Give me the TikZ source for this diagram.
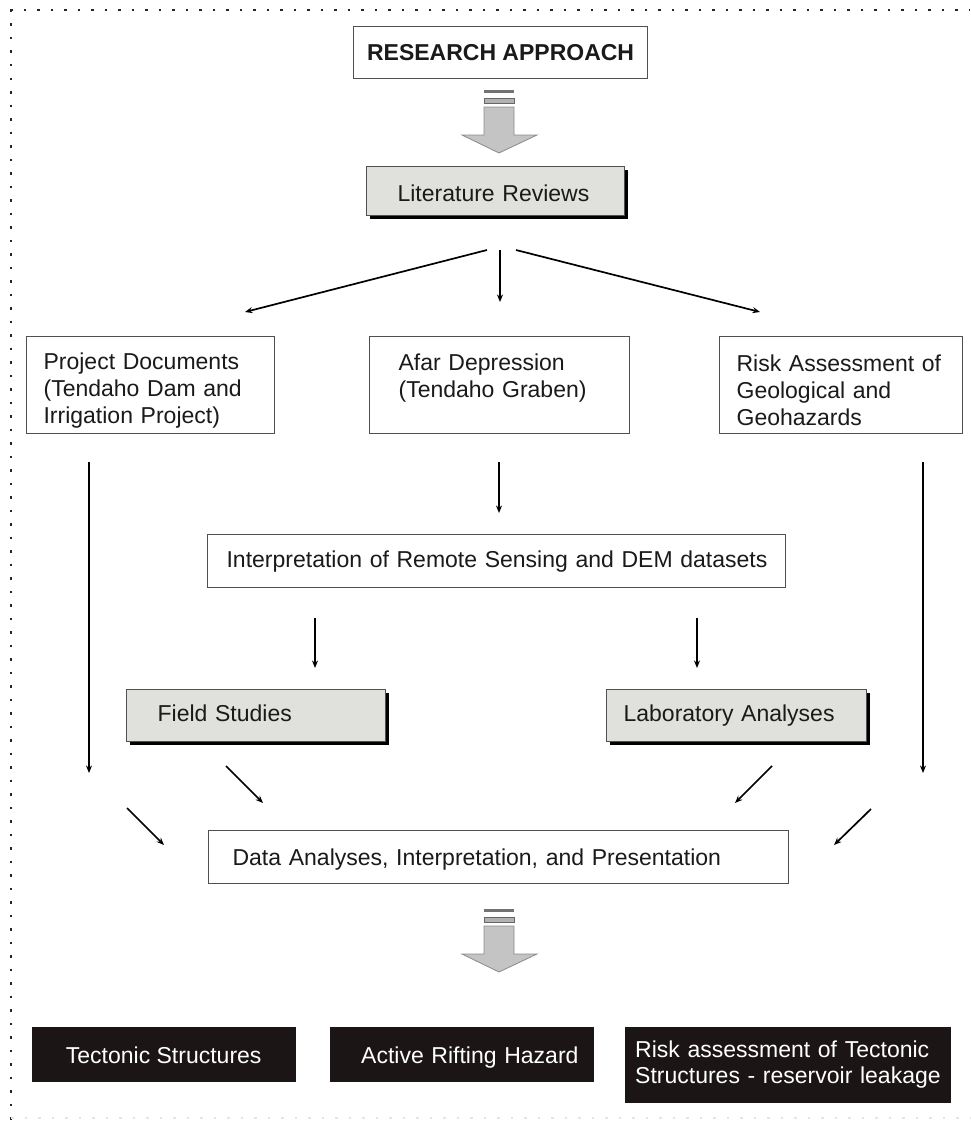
\documentclass[tikz,border=0pt]{standalone}
\usepackage{fontspec}
\setmainfont{Liberation Sans}
\usetikzlibrary{arrows.meta,shadows}
\definecolor{boxgray}{HTML}{E0E0DC}
\definecolor{darkbox}{HTML}{1C1515}
\definecolor{arrowfill}{HTML}{C4C4C4}
\definecolor{arrowline}{HTML}{8A8A8A}
\definecolor{edgegray}{HTML}{505050}
\definecolor{txt}{HTML}{1A1A1A}
\newcommand\toppad[1]{\rule{0pt}{#1}}
\newcommand\botpad[1]{\rule[-#1]{0pt}{#1}}
\tikzset{
  basebox/.style={rectangle, anchor=north west, inner ysep=0pt, text=txt,
    font=\fontsize{23}{27}\selectfont, align=left},
  oneline/.style={text height=16.6pt, text depth=4.8pt},
  plainbox/.style={basebox, draw=edgegray, line width=1.2pt, fill=white},
  shadebox/.style={basebox, oneline, draw=edgegray, line width=1.2pt, fill=boxgray,
    drop shadow={opacity=1, fill=black, shadow xshift=3pt, shadow yshift=-3pt}},
  blackbox/.style={basebox, fill=darkbox, draw=darkbox, text=white,
    font=\fontsize{23}{26}\selectfont},
  conn/.style={-{Stealth[length=7.5pt,width=6pt]}, line width=1.7pt, draw=black},
  dotline/.style={line width=2.2pt, dash pattern=on 2.5pt off 11pt, draw=black!85},
  blockarrow/.pic={
    \fill[black!55] (-15,0) rectangle (15,3);
    \draw[fill=black!30, draw=black!60, line width=0.8pt] (-15,8) rectangle (15,13);
    \draw[fill=arrowfill, draw=arrowline, line width=0.8pt]
      (-15,17) -- (15,17) -- (15,45) -- (38,45) -- (0,63) -- (-37,45) -- (-15,45) -- cycle;
  }
}
\begin{document}
\begin{tikzpicture}[x=1pt,y=-1pt]
\useasboundingbox (0,0) rectangle (970,1124);
% dotted frame
\draw[dotline] (10,10) -- (970,10);
\draw[dotline] (11,10) -- (11,1124);
\draw[dotline, draw=black!10] (11,1118) -- (970,1118);

% title
\node[plainbox, align=center, font=\fontsize{23}{27}\selectfont\bfseries,
  text height=18.6pt, text depth=2.6pt,
  minimum width=294pt, minimum height=52pt, inner xsep=0pt] (ra) at (353,26) {RESEARCH APPROACH};
\pic at (499,90) {blockarrow};

\node[shadebox, minimum width=258pt, minimum height=49pt, text width=196pt, inner xsep=31pt,
  text height=21pt, text depth=0pt] (lit) at (366,166) {Literature Reviews};

% second row
\node[plainbox, minimum width=248pt, minimum height=97pt, text width=214pt, inner xsep=17pt]
  (proj) at (26,336) {\toppad{28pt}Project Documents\\(Tendaho Dam and\\Irrigation Project)};
\node[plainbox, minimum width=260pt, minimum height=97pt, text width=202pt, inner xsep=29pt]
  (afar) at (369,336) {Afar Depression\\(Tendaho Graben)\botpad{18.6pt}};
\node[plainbox, minimum width=243pt, minimum height=97pt, text width=209pt, inner xsep=17pt]
  (risk) at (719,336) {\toppad{28pt}Risk Assessment of\\Geological and\\Geohazards};

\node[plainbox, oneline, minimum width=578pt, minimum height=53pt, text width=540pt, inner xsep=19pt]
  (interp) at (207,534) {\mbox{Interpretation of Remote Sensing and DEM datasets}};

\node[shadebox, minimum width=259pt, minimum height=52pt, text width=197pt, inner xsep=31pt]
  (field) at (126,689) {Field Studies};
\node[shadebox, minimum width=260pt, minimum height=52pt, text width=226pt, inner xsep=17pt]
  (lab) at (606,689) {\mbox{Laboratory Analyses}};

\node[plainbox, minimum width=580pt, minimum height=53pt, text width=532pt, inner xsep=24pt,
  text height=19pt, text depth=2pt] (data) at (208,830) {\mbox{Data Analyses, Interpretation, and Presentation}};

\pic at (499,909) {blockarrow};

% outcome boxes
\node[blackbox, align=center, text height=20pt, text depth=2pt,
  minimum width=263pt, minimum height=54pt, inner xsep=0pt]
  (tect) at (32,1027) {Tectonic Structures};
\node[blackbox, text height=20pt, text depth=2pt,
  minimum width=263pt, minimum height=54pt, text width=239pt, inner xsep=12pt]
  (rift) at (330,1027) {\mbox{\hspace*{19pt}Active Rifting Hazard}};
\node[blackbox, minimum width=325pt, minimum height=75pt, text width=305pt, inner xsep=10pt]
  (leak) at (625,1027) {\mbox{Risk assessment of Tectonic}\\\mbox{Structures - reservoir leakage}};

% connector end points
\coordinate (a1s) at (487,250); \coordinate (a1e) at (245,312);
\coordinate (a2s) at (500,250); \coordinate (a2e) at (500,302);
\coordinate (a3s) at (516,250); \coordinate (a3e) at (760,312);
\coordinate (a4s) at (89,462);  \coordinate (a4e) at (89,773);
\coordinate (a5s) at (499,462); \coordinate (a5e) at (499,513);
\coordinate (a6s) at (923,462); \coordinate (a6e) at (923,773);
\coordinate (a7s) at (315,618); \coordinate (a7e) at (315,668);
\coordinate (a8s) at (697,618); \coordinate (a8e) at (697,668);
\coordinate (a9s) at (226,766); \coordinate (a9e) at (263,803);
\coordinate (a10s) at (772,766); \coordinate (a10e) at (735,803);
\coordinate (a11s) at (127,808); \coordinate (a11e) at (164,845);
\coordinate (a12s) at (871,809); \coordinate (a12e) at (834,845);

\foreach \i in {1,...,12} { \draw[conn] (a\i s) -- (a\i e); }
\end{tikzpicture}
\end{document}
